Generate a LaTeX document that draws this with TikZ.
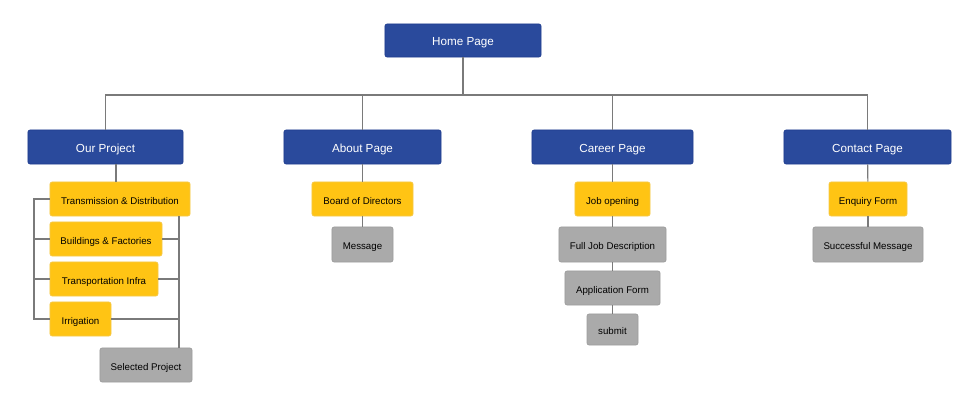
\documentclass[tikz,border=0pt]{standalone}
\usepackage{fontspec}
\setmainfont{Liberation Sans}
\usetikzlibrary{calc}

\definecolor{pageblue}{HTML}{2A4A9C}
\definecolor{pageblueedge}{HTML}{1F3D8F}
\definecolor{subyellow}{HTML}{FFC414}
\definecolor{subyellowedge}{HTML}{F5C84A}
\definecolor{leafgray}{HTML}{AAAAAA}
\definecolor{leafgrayedge}{HTML}{9C9C9C}
\definecolor{linkgray}{HTML}{7A7A7A}

\begin{document}
\begin{tikzpicture}[
  x=0.025cm, y=-0.025cm,
  box/.style={rounded corners=1.5pt, line width=0.5pt, inner sep=0pt,
              align=center, minimum height=0.85cm,
              text height=1.38ex, text depth=0pt},
  pagebox/.style={box, draw=pageblueedge, fill=pageblue, text=white,
                  font=\fontsize{8.3}{9}\selectfont, minimum width=#1},
  subbox/.style={box, draw=subyellowedge, fill=subyellow, text=black,
                 font=\fontsize{6.9}{8}\selectfont, minimum width=#1},
  leafbox/.style={box, draw=leafgrayedge, fill=leafgray, text=black,
                  font=\fontsize{6.9}{8}\selectfont, minimum width=#1},
  link/.style={draw=linkgray, line width=0.8pt},
]
  \useasboundingbox (0,0) rectangle (980,406);

  %% -- root --
  \node[pagebox=3.9cm, minimum height=0.825cm] (home) at (463, 40.5) {Home Page};

  %% -- main pages --
  \node[pagebox=3.875cm] (proj)    at (105.5, 147) {Our Project};
  \node[pagebox=3.925cm] (about)   at (362.5, 147) {About Page};
  \node[pagebox=4.025cm] (career)  at (612.5, 147) {Career Page};
  \node[pagebox=4.175cm] (contact) at (867.5, 147) {Contact Page};

  %% -- Our Project branch --
  \node[subbox=3.5cm]   (trans) at (120, 199) {Transmission \& Distribution};
  \node[subbox=2.8cm]   (build) at (106, 239) {Buildings \& Factories};
  \node[subbox=2.7cm]   (infra) at (104, 279) {Transportation Infra};
  \node[subbox=1.525cm] (irrig) at (80.5, 319) {Irrigation};
  \node[leafbox=2.3cm]  (selproj) at (146, 365) {Selected Project};

  %% -- About branch --
  \node[subbox=2.525cm] (board) at (362.5, 199) {Board of Directors};
  \node[leafbox=1.525cm, minimum height=0.875cm] (msg) at (362.5, 244.5) {Message};

  %% -- Career branch --
  \node[subbox=1.875cm] (jobopen) at (612.5, 199) {Job opening};
  \node[leafbox=2.675cm, minimum height=0.875cm] (jobdesc) at (612.5, 244.5) {Full Job Description};
  \node[leafbox=2.375cm] (appform) at (612.5, 288) {Application Form};
  \node[leafbox=1.275cm, minimum height=0.775cm] (submit) at (612.5, 329.5) {submit};

  %% -- Contact branch --
  \node[subbox=1.95cm]  (enquiry) at (868, 199) {Enquiry Form};
  \node[leafbox=2.75cm, minimum height=0.875cm] (success) at (868, 244.5) {Successful Message};

  %% -- helper points --
  \coordinate (bus) at (463, 95);
  \coordinate (lrail) at (34, 0);
  \coordinate (rrail) at (179, 0);
  \coordinate (projdrop) at (116, 0);

  %% root -> main pages
  \draw[link] (home.south) -- (bus);
  \draw[link] (bus) -| (proj.north);
  \draw[link] (bus) -| (about.north);
  \draw[link] (bus) -| (career.north);
  \draw[link] (bus) -| (contact.north);

  %% Our Project -> project types
  \draw[link] (proj.south -| projdrop) -- (trans.north -| projdrop);
  \draw[link] (trans.west) -- (trans.west -| lrail) |- (irrig.west);
  \draw[link] (build.west) -- (build.west -| lrail);
  \draw[link] (infra.west) -- (infra.west -| lrail);
  %% project types -> Selected Project
  \draw[link] (trans.south -| rrail) -- (selproj.north -| rrail);
  \draw[link] (build.east) -- (build.east -| rrail);
  \draw[link] (infra.east) -- (infra.east -| rrail);
  \draw[link] (irrig.east) -- (irrig.east -| rrail);

  %% About
  \draw[link] (about) -- (board);
  \draw[link] (board) -- (msg);

  %% Career
  \draw[link] (career) -- (jobopen);
  \draw[link] (jobopen) -- (jobdesc);
  \draw[link] (jobdesc) -- (appform);
  \draw[link] (appform) -- (submit);

  %% Contact
  \draw[link] (contact) -- (enquiry);
  \draw[link] (enquiry) -- (success);
\end{tikzpicture}
\end{document}
